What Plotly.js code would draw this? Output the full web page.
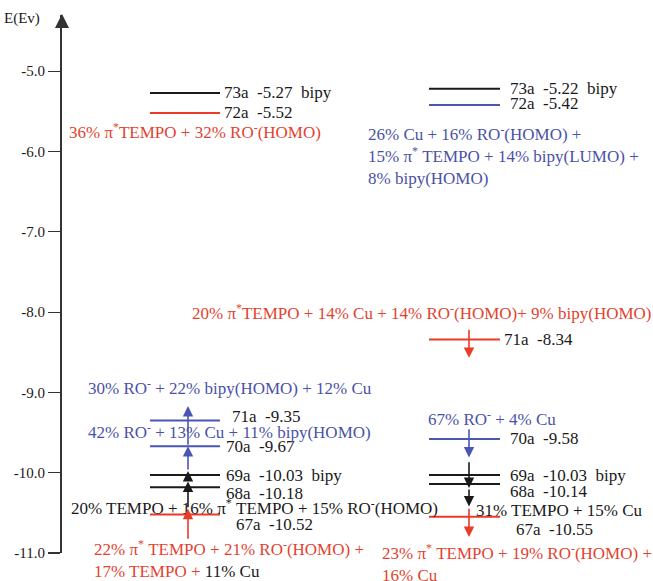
<!DOCTYPE html>
<html><head><meta charset="utf-8">
<script src="https://cdn.plot.ly/plotly-3.0.1.min.js"></script>
<style>body{margin:0;background:#fff}</style>
</head><body><div id="chart" style="width:653px;height:581px"></div>
<script>
// ---------- data ----------
const tickValues = [-5, -6, -7, -8, -9, -10, -11];
const tickLabels = ["-5.0", "-6.0", "-7.0", "-8.0", "-9.0", "-10.0", "-11.0"];

const leftNames = ["73a", "72a", "71a", "70a", "69a", "68a", "67a"];
const leftEnergies = [-5.27, -5.52, -9.35, -9.67, -10.03, -10.18, -10.52];
const leftTags = ["bipy", "", "", "", "bipy", "", ""];

const rightNames = ["73a", "72a", "71a", "70a", "69a", "68a", "67a"];
const rightEnergies = [-5.22, -5.42, -8.34, -9.58, -10.03, -10.14, -10.55];
const rightTags = ["bipy", "", "", "", "bipy", "", ""];

const compositionTexts = [
  "36% π<sup>*</sup>TEMPO + 32% RO<sup>-</sup>(HOMO)",
  "26% Cu + 16% RO<sup>-</sup>(HOMO) +<br>15% π<sup>*</sup> TEMPO + 14% bipy(LUMO) +<br>8% bipy(HOMO)",
  "20% π<sup>*</sup>TEMPO + 14% Cu + 14% RO<sup>-</sup>(HOMO)+ 9% bipy(HOMO)",
  "30% RO<sup>-</sup> + 22% bipy(HOMO) + 12% Cu",
  "42% RO<sup>-</sup> + 13% Cu + 11% bipy(HOMO)",
  "20% TEMPO + 16% π<sup>*</sup> TEMPO + 15% RO<sup>-</sup>(HOMO)",
  "22% π<sup>*</sup> TEMPO + 21% RO<sup>-</sup>(HOMO) +<br>17% TEMPO + <span style='color:#1a1a1a'>11% Cu</span>",
  "67% RO<sup>-</sup> + 4% Cu",
  "31% TEMPO + 15% Cu",
  "23% π<sup>*</sup> TEMPO + 19% RO<sup>-</sup>(HOMO) +<br>16% Cu"
];

// ---------- styles / layout ----------
const RED = "#e2432f", BLUE = "#4b52a6", BLACK = "#1a1a1a";
const LRED = "#ea3a28", LBLUE = "#4a56b4";
const leftColors = [BLACK, LRED, LBLUE, LBLUE, BLACK, BLACK, LRED];
const rightColors = [BLACK, LBLUE, LRED, LBLUE, BLACK, BLACK, LRED];
const leftLabelShift = [[-4, 0], [-4, 0], [4, 4], [-2, 0], [-2, 0], [-2, -6], [8, -10]];
const rightLabelShift = [[2, 0], [2, 1], [-4, 0], [2, 0], [2, 0], [2, -8], [8, -13]];
const compPos = [ // pixel x (left), pixel y (center), color
  [67, 131, RED], [366, 155, BLUE], [190, 312, RED], [86, 387, BLUE], [86, 431, BLUE],
  [69, 507, BLACK], [92, 559, RED], [426, 418, BLUE], [474, 510, BLACK], [380, 563, RED]
];

const TOP = 15, BOT = 553, YMAX = -4.3, YMIN = -11.0;
const P = py => 1 - (py - TOP) / (BOT - TOP);
const FONT = "'Liberation Serif', serif";

const traces = [];
const annotations = [];
function addColumn(names, energies, tags, colors, shifts, x0, x1) {
  names.forEach((n, i) => {
    traces.push({x: [x0, x1], y: [energies[i], energies[i]], mode: "lines",
      line: {color: colors[i], width: 2}, hoverinfo: "skip", showlegend: false});
    annotations.push({x: x1 + 6, y: energies[i], xref: "x", yref: "y", xanchor: "left", yanchor: "middle",
      xshift: shifts[i][0], yshift: shifts[i][1], showarrow: false,
      text: n + "\u00a0 " + energies[i].toFixed(2) + (tags[i] ? "\u00a0 " + tags[i] : ""),
      font: {family: FONT, size: 17, color: BLACK}});
  });
}
addColumn(leftNames, leftEnergies, leftTags, leftColors, leftLabelShift, 150, 220);
addColumn(rightNames, rightEnergies, rightTags, rightColors, rightLabelShift, 429, 500);

compositionTexts.forEach((t, i) => {
  annotations.push({x: compPos[i][0], y: P(compPos[i][1]), xref: "x", yref: "paper", xanchor: "left", yanchor: "middle",
    showarrow: false, align: "left", text: t, font: {family: FONT, size: 17, color: compPos[i][2]}});
});

// transition arrows (anchored to level energies)
function arrow(x, from, to, color) {
  annotations.push({x: x, y: to, ax: x, ay: from, xref: "x", yref: "y", axref: "x", ayref: "y",
    showarrow: true, arrowhead: 2, arrowsize: 1.3, arrowwidth: 1.6, arrowcolor: color, text: ""});
}
const L = leftEnergies, R = rightEnergies;
arrow(188, L[6] - 0.32, L[6] + 0.07, LRED);
arrow(188, L[6] + 0.07, L[5] + 0.07, BLACK);
arrow(188, L[5] + 0.07, L[4] + 0.05, BLACK);
arrow(188, L[4] + 0.05, L[3] + 0.0, LBLUE);
arrow(188, L[3] + 0.0, L[2] + 0.18, LBLUE);
arrow(469, R[2] + 0.14, R[2] - 0.23, LRED);
arrow(469, R[3] + 0.14, R[3] - 0.23, LBLUE);
arrow(469, R[4] + 0.18, R[5] - 0.05, BLACK);
arrow(469, R[5] - 0.05, R[5] - 0.28, BLACK);
arrow(469, R[6] + 0.12, R[6] - 0.25, LRED);

// axis arrow & title
annotations.push({x: 0, y: 1, xref: "paper", yref: "paper", ax: 0, ay: 6, showarrow: true,
  arrowhead: 2, arrowsize: 1.4, arrowwidth: 2, arrowcolor: "#333", text: "", yshift: 1});
annotations.push({x: 0, y: 1, xref: "paper", yref: "paper", xanchor: "right", yanchor: "middle",
  xshift: -20, yshift: -3, showarrow: false, text: "E(Ev)", font: {family: FONT, size: 15, color: BLACK}});

const layout = {
  width: 653, height: 581,
  margin: {l: 62, r: 0, t: TOP, b: 581 - BOT},
  paper_bgcolor: "#fff", plot_bgcolor: "#fff",
  showlegend: false,
  xaxis: {range: [62, 653], visible: false, fixedrange: true},
  yaxis: {range: [YMIN, YMAX], showgrid: false, zeroline: false, showline: true, linecolor: "#333", linewidth: 2,
    ticks: "outside", ticklen: 12, tickwidth: 1.2, tickcolor: "#333",
    tickvals: tickValues, ticktext: tickLabels, tickfont: {family: FONT, size: 15, color: BLACK}},
  annotations: annotations
};
Plotly.newPlot("chart", traces, layout, {displayModeBar: false, staticPlot: true});
</script></body></html>
